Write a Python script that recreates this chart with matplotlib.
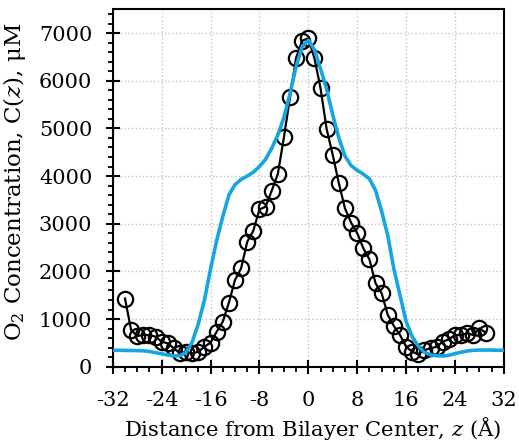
import matplotlib.pyplot as plt
from matplotlib.ticker import MultipleLocator

plt.rcParams['font.family'] = 'DejaVu Serif'
plt.rcParams['mathtext.fontset'] = 'dejavuserif'

# simulated O2 concentration (circles)
z_sim = [-30, -29, -28, -27, -26, -25, -24, -23, -22, -21, -20, -19, -18, -17, -16,
         -15, -14, -13, -12, -11, -10, -9, -8, -7, -6, -5, -4, -3, -2, -1,
         0, 1, 2, 3, 4, 5, 6, 7, 8, 9, 10, 11, 12, 13, 14,
         15, 16, 17, 18, 19, 20, 21, 22, 23, 24, 25, 26, 27, 28, 29]
c_sim = [1430, 770, 645, 665, 665, 630, 525, 490, 385, 280, 315, 280, 315, 420, 505,
         735, 945, 1345, 1820, 2065, 2620, 2855, 3300, 3355, 3690, 4040, 4810, 5650, 6480, 6840,
         6890, 6470, 5840, 4980, 4440, 3845, 3320, 3020, 2800, 2485, 2250, 1750, 1540, 1085, 855,
         665, 420, 315, 260, 350, 385, 420, 525, 575, 665, 665, 700, 665, 805, 715]

# model profile (blue curve)
z_fit = [-32, -31, -30, -29, -28, -27, -26, -25, -24, -23, -22, -21, -20, -19, -18, -17, -16,
         -15, -14, -13, -12, -11, -10, -9, -8, -7, -6, -5, -4, -3, -2, -1,
         0, 1, 2, 3, 4, 5, 6, 7, 8, 9, 10, 11, 12, 13, 14, 15, 16,
         17, 18, 19, 20, 21, 22, 23, 24, 25, 26, 27, 28, 29, 30, 31, 32]
c_fit = [345, 345, 342, 340, 338, 335, 320, 295, 270, 245, 225, 235, 300, 520, 900, 1400, 2050,
         2650, 3150, 3600, 3820, 3930, 4000, 4080, 4200, 4350, 4580, 4860, 5230, 5730, 6300, 6720,
         6850, 6650, 6250, 5820, 5280, 4800, 4420, 4220, 4120, 4040, 3940, 3700, 3260, 2750, 2050, 1500, 950,
         630, 430, 300, 250, 230, 224, 240, 275, 305, 330, 345, 350, 350, 350, 345, 345]

xticks = [-32, -24, -16, -8, 0, 8, 16, 24, 32]

fig = plt.figure(figsize=(5.19, 4.47), dpi=100)
ax = fig.add_axes([0.2173, 0.1796, 0.7536, 0.7998])

ax.plot(z_sim, c_sim, color='black', lw=1.6, marker='o', ms=11,
        mfc='none', mec='black', mew=1.6, zorder=3)
ax.plot(z_fit, c_fit, color='#14a5e3', lw=2.6, zorder=4)

ax.set_xlim(-32, 32)
ax.set_ylim(0, 7500)
ax.set_xticks(xticks)
ax.set_xticklabels([str(t) for t in xticks])
ax.xaxis.set_minor_locator(MultipleLocator(2))
ax.set_yticks(range(0, 8000, 1000))
ax.yaxis.set_minor_locator(MultipleLocator(200))

ax.grid(True, which='major', color='#c4c4c4', linestyle=':', lw=1.0)
ax.set_axisbelow(True)

for s in ax.spines.values():
    s.set_linewidth(1.5)

ax.tick_params(which='major', direction='inout', length=9.5, width=1.5,
               labelsize=15)
ax.tick_params(which='minor', direction='out', length=3.5, width=1.3)
ax.tick_params(axis='y', which='major', pad=10)
ax.tick_params(axis='x', which='major', pad=13)

ax.set_xlabel('Distance from Bilayer Center, $z$ (Å)', fontsize=15.2)
ax.set_ylabel('O$_2$ Concentration, C($z$), μM', fontsize=16.5)
ax.xaxis.set_label_coords(0.511, -0.134)
ax.yaxis.set_label_coords(-0.217, 0.517)

fig.savefig('out.png', dpi=100)
